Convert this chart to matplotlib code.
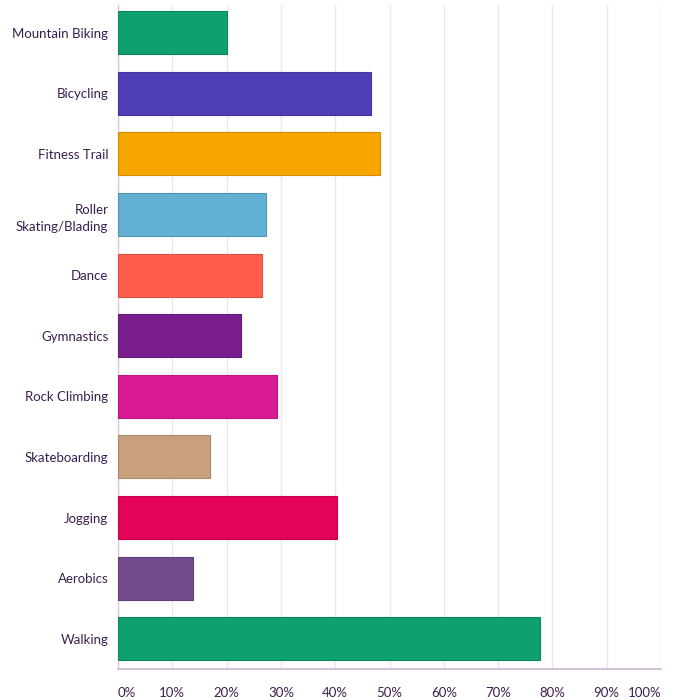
import matplotlib.pyplot as plt
import numpy as np

activities = ["Mountain Biking", "Bicycling", "Fitness Trail", "Roller\nSkating/Blading",
              "Dance", "Gymnastics", "Rock Climbing", "Skateboarding", "Jogging",
              "Aerobics", "Walking"]
percent = [20.1, 46.5, 48.3, 27.3, 26.5, 22.6, 29.3, 16.9, 40.3, 13.9, 77.7]
colors = ["#0fa06f", "#4e3fb6", "#f7a600", "#62b0d3", "#ff5e4d", "#7a1e8e",
          "#d81b93", "#c8a07e", "#e3045a", "#734a8c", "#0fa06f"]
ticks = np.arange(0, 101, 10)
tick_labels = [f"{t}%" for t in ticks]

txt = "#3b1f4e"
plt.rcParams['font.family'] = ['Lato', 'DejaVu Sans']

fig = plt.figure(figsize=(6.75, 7), dpi=100)
ax = fig.add_axes([0.1748, 0.0443, 0.8045, 0.9487])

y = np.arange(len(activities))
edge = [tuple(c * 0.85 for c in plt.matplotlib.colors.to_rgb(col)) for col in colors]
ax.barh(y, percent, height=0.71, color=colors, edgecolor=edge, linewidth=0.8, zorder=3)

ax.set_ylim(len(activities) - 0.5, -0.46)
ax.set_xlim(0, 100)
ax.set_yticks(y)
ax.set_yticklabels(activities, fontsize=9.5, color=txt, linespacing=1.5)
ax.set_xticks(ticks)
ax.set_xticklabels(tick_labels, fontsize=9.5, color=txt)
xl = ax.get_xticklabels()
xl[0].set_horizontalalignment('left')
xl[-1].set_horizontalalignment('right')
ax.tick_params(axis='both', length=0)
ax.tick_params(axis='x', pad=13)
ax.tick_params(axis='y', pad=7)

ax.grid(axis='x', color='#ece6ee', linewidth=1, zorder=0)
for s in ['top', 'right']:
    ax.spines[s].set_visible(False)
ax.spines['left'].set_color('#e2c6dc')
ax.spines['bottom'].set_color('#cdb7d2')
ax.spines['left'].set_linewidth(1)
ax.spines['bottom'].set_linewidth(1.2)

fig.savefig("out.png", dpi=100)
